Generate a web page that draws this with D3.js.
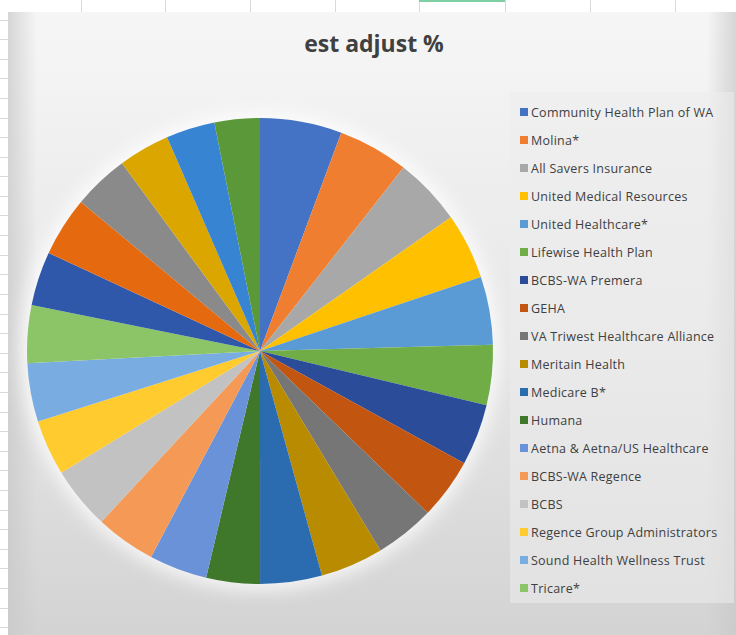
<!DOCTYPE html>
<html lang="en">
<head>
    <meta charset="UTF-8">
    <title>est adjust %</title>
    <script src="https://cdn.jsdelivr.net/npm/d3@7"></script>
</head>
<style>
    body { margin: 0; background: #fff; }
    svg { display: block; }
</style>
<body>
</body>
</html>
<script>

    // payer names (legend only lists the first 18, like the Excel chart)
    var categories = [
        "Community Health Plan of WA", "Molina*", "All Savers Insurance",
        "United Medical Resources", "United Healthcare*", "Lifewise Health Plan",
        "BCBS-WA Premera", "GEHA", "VA Triwest Healthcare Alliance",
        "Meritain Health", "Medicare B*", "Humana",
        "Aetna & Aetna/US Healthcare", "BCBS-WA Regence", "BCBS",
        "Regence Group Administrators", "Sound Health Wellness Trust", "Tricare*",
        "Payer 19", "Payer 20", "Payer 21", "Payer 22", "Payer 23", "Payer 24"
    ];
    // est adjust %
    var values = [
        5.67, 4.89, 4.72, 4.58, 4.72, 4.17,
        4.25, 4.22, 4.14, 4.36, 4.28, 3.72,
        4.03, 4.17, 4.33, 3.86, 4.06, 4.00,
        3.75, 4.14, 3.86, 3.56, 3.39, 3.14
    ];
    var colors = [
        "#4472c4", "#ef7e30", "#a8a8a8", "#ffc000", "#5b9bd5", "#70ad47",
        "#2b4c98", "#c2550f", "#767676", "#b88b00", "#2b6cb0", "#3f782b",
        "#6a92d8", "#f59a56", "#c2c2c2", "#ffcb2e", "#79ade2", "#8cc468",
        "#2f57aa", "#e5690f", "#8a8a8a", "#dba600", "#3784d2", "#5a983a"
    ];
    var legendCount = 18;

    var w = 736;
    var h = 635;

    var svg = d3.select("body")
            .append("svg")
            .attr("width", w)
            .attr("height", h);

    var defs = svg.append("defs");
    var bg = defs.append("linearGradient").attr("id", "bg")
            .attr("x1", 0).attr("y1", 0).attr("x2", 0).attr("y2", 1);
    bg.append("stop").attr("offset", "0%").attr("stop-color", "#f6f6f6");
    bg.append("stop").attr("offset", "55%").attr("stop-color", "#e6e6e6");
    bg.append("stop").attr("offset", "100%").attr("stop-color", "#d3d3d3");

    var edge = defs.append("linearGradient").attr("id", "edge")
            .attr("x1", 0).attr("y1", 0).attr("x2", 1).attr("y2", 0);
    edge.append("stop").attr("offset", "0%").attr("stop-color", "#c8c8c8").attr("stop-opacity", 0.7);
    edge.append("stop").attr("offset", "4%").attr("stop-color", "#c8c8c8").attr("stop-opacity", 0);
    edge.append("stop").attr("offset", "96%").attr("stop-color", "#c8c8c8").attr("stop-opacity", 0);
    edge.append("stop").attr("offset", "100%").attr("stop-color", "#c8c8c8").attr("stop-opacity", 0.7);

    defs.append("filter").attr("id", "glow")
            .attr("x", "-20%").attr("y", "-20%").attr("width", "140%").attr("height", "140%")
            .append("feGaussianBlur").attr("stdDeviation", 9);

    // spreadsheet grid behind the chart
    var grid = svg.append("g").attr("stroke", "#d9d9d9").attr("stroke-width", 1);
    [81, 165, 250, 335, 419, 505, 590, 675].forEach(function (x) {
        grid.append("line").attr("x1", x + 0.5).attr("x2", x + 0.5).attr("y1", 0).attr("y2", 12);
    });
    for (var y = 19.5; y < h; y += 19.6) {
        grid.append("line").attr("x1", 0).attr("x2", 8).attr("y1", Math.round(y) + 0.5).attr("y2", Math.round(y) + 0.5);
    }
    svg.append("line").attr("x1", 419).attr("x2", 505).attr("y1", 1).attr("y2", 1)
            .attr("stroke", "#7fcfa5").attr("stroke-width", 2);

    // chart area
    svg.append("rect").attr("x", 8).attr("y", 12).attr("width", w - 8).attr("height", h - 12)
            .attr("fill", "url(#bg)");
    svg.append("rect").attr("x", 8).attr("y", 12).attr("width", w - 8).attr("height", h - 12)
            .attr("fill", "url(#edge)");

    // title
    svg.append("text")
            .text("est adjust %")
            .attr("x", 374)
            .attr("y", 52)
            .attr("text-anchor", "middle")
            .attr("font-family", "'Open Sans', sans-serif")
            .attr("font-weight", "bold")
            .attr("font-size", "23px")
            .attr("fill", "#404040");

    // pie
    var cx = 260, cy = 351, r = 233;
    var pie = d3.pie().sort(null).value(function (d) { return d; });
    var arc = d3.arc().innerRadius(0).outerRadius(r);
    var g = svg.append("g").attr("transform", "translate(" + cx + "," + cy + ")");

    g.append("circle").attr("r", r + 6).attr("fill", "#ffffff").attr("opacity", 0.8)
            .attr("filter", "url(#glow)");

    g.selectAll("path")
            .data(pie(values))
            .enter()
            .append("path")
            .attr("d", arc)
            .attr("fill", function (d, i) { return colors[i]; });

    // legend
    var lg = svg.append("g");
    lg.append("rect").attr("x", 510).attr("y", 92).attr("width", 224).attr("height", 511)
            .attr("fill", "#ececec").attr("opacity", 0.55);

    var items = lg.selectAll("g.item")
            .data(categories.slice(0, legendCount))
            .enter()
            .append("g")
            .attr("class", "item")
            .attr("transform", function (d, i) {
                return "translate(520," + (112 + i * 28) + ")";
            });
    items.append("rect")
            .attr("x", 0).attr("y", -4)
            .attr("width", 8).attr("height", 8)
            .attr("fill", function (d, i) { return colors[i]; });
    items.append("text")
            .text(function (d) { return d; })
            .attr("x", 11)
            .attr("y", 4.5)
            .attr("font-family", "'Open Sans', sans-serif")
            .attr("font-size", "12.5px")
            .attr("letter-spacing", "0.25px")
            .attr("fill", "#404040");
</script>
